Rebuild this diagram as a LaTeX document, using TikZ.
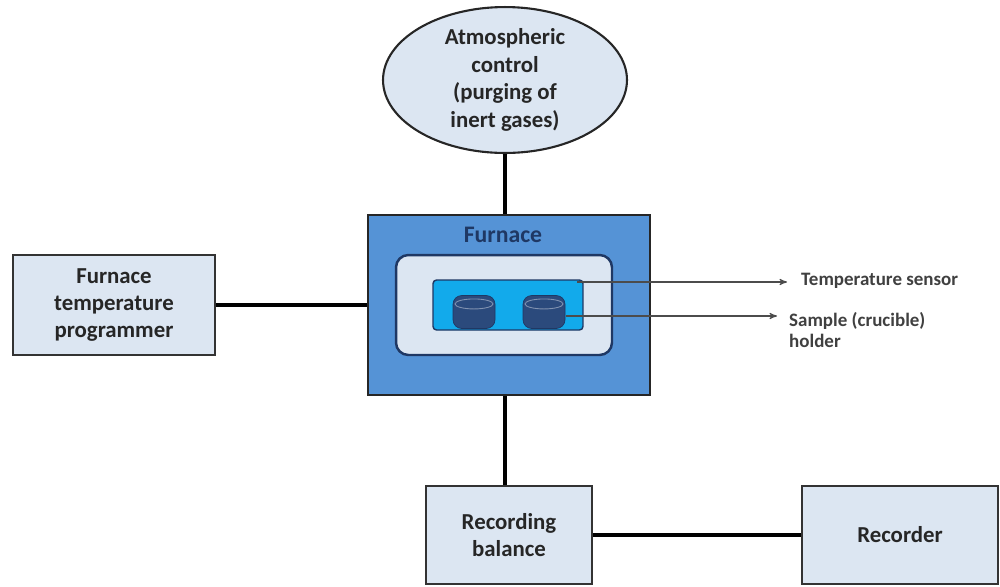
\documentclass[tikz,border=0pt]{standalone}
\usepackage{fontspec}
\setmainfont{Carlito}
\usetikzlibrary{shapes.geometric,arrows,positioning}
\definecolor{boxfill}{HTML}{DCE6F2}
\definecolor{furnfill}{HTML}{5593D6}
\definecolor{navy}{HTML}{1F3864}
\definecolor{holdfill}{HTML}{12AAEB}
\definecolor{cupfill}{HTML}{2B4A7C}
\tikzset{
  unit/.style={
    % The shape:
    rectangle,
    % The size:
    minimum width=4.04cm,minimum height=2cm,
    % The border:
    draw=black!80,line width=1.2pt,
    % The filling:
    fill=boxfill,
    font=\fontsize{13}{15.5}\selectfont\bfseries,text=black!85,align=center},
  gas/.style={
    % The shape:
    ellipse,
    minimum width=4.88cm,minimum height=2.68cm,inner sep=0pt,
    % The rest
    draw=black!85,line width=1.2pt,fill=boxfill,
    font=\fontsize{13}{15.8}\selectfont\bfseries,text=black!85,align=center},
  cup/.style={
    % The shape:
    rectangle,rounded corners=5pt,
    minimum width=0.84cm,minimum height=0.66cm,
    % The rest
    draw=navy,fill=cupfill,inner sep=0pt},
  tag/.style={font=\fontsize{10.8}{12}\selectfont\bfseries,text=black!75,align=left},
  link/.style={line width=2.8pt,draw=black}
}
\begin{document}
\begin{tikzpicture}[x=0.02cm,y=-0.02cm,>=stealth',
                    pointer/.style={->,draw=black!70,line width=0.6pt}]
  \useasboundingbox (0,0) rectangle (1000,586);

  \node (atmos)    [gas]  at (505,80) {Atmospheric\\control\\(purging of\\inert gases)};
  \node (furnace)  [rectangle,minimum width=5.64cm,minimum height=3.6cm,
                    draw=black!85,line width=1.6pt,fill=furnfill] at (509,305) {};
  \node (flabel)   [font=\fontsize{13.5}{14}\selectfont\bfseries,text=navy] at (503,235) {Furnace};
  \node (chamber)  [rectangle,rounded corners=7pt,minimum width=4.32cm,minimum height=2cm,
                    draw=navy,line width=1.4pt,fill=boxfill] at (504,305) {};
  \node (holder)   [rectangle,rounded corners=2pt,minimum width=3cm,minimum height=1cm,
                    draw=navy,line width=0.8pt,fill=holdfill] at (508,305) {};
  \node (cupa)     [cup] at (474,312) {};
  \node (cupb)     [cup] at (544,312) {};
  % lids of the crucibles
  \draw[cupfill!60!white,line width=0.5pt] ([yshift=-5pt]cupa.north) ellipse [x radius=0.38cm,y radius=0.1cm];
  \draw[cupfill!60!white,line width=0.5pt] ([yshift=-5pt]cupb.north) ellipse [x radius=0.38cm,y radius=0.1cm];
  \node (prog)     [unit] at (114,305) {Furnace\\temperature\\programmer};
  \node (balance)  [unit,minimum width=3.32cm,minimum height=1.96cm] at (509,535) {Recording\\balance};
  \node (recorder) [unit,minimum width=3.92cm,minimum height=1.96cm] at (900,535) {Recorder};

  \coordinate (sensfrom) at (577,282);
  \coordinate (sensto)   at (787,282);
  \coordinate (sampfrom) at (566,316);
  \coordinate (sampto)   at (777,316);
  \node (senslabel) [tag,anchor=west] at (795,281) {Temperature sensor};
  \node (samplabel) [tag,anchor=north west] at (783,306) {Sample (crucible)\\holder};

  \draw[link] (atmos) -- (atmos |- furnace.north);
  \draw[link] (prog) -- (furnace);
  \draw[link] (furnace.south -| atmos) -- (atmos |- balance.north);
  \draw[link] (balance) -- (recorder);
  \draw[pointer] (sensfrom) -- (sensto);
  \draw[pointer] (sampfrom) -- (sampto);
\end{tikzpicture}
\end{document}
